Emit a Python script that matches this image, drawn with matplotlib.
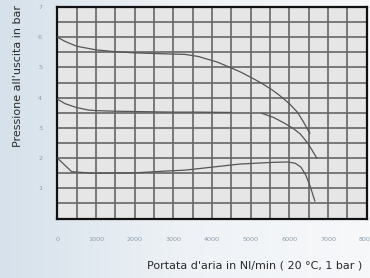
import numpy as np
import matplotlib
matplotlib.use('Agg')
import matplotlib.pyplot as plt
import matplotlib.ticker as ticker

# ── Data ──────────────────────────────────────────────────────────────────────
top_x = [0, 200, 500, 1000, 1500, 2000, 2500, 3000, 3300, 3650, 4150, 4500,
         4750, 5050, 5250, 5550, 5750, 6000, 6200, 6350, 6530]
top_y = [6.0, 5.86, 5.70, 5.58, 5.52, 5.48, 5.46, 5.44, 5.43, 5.36, 5.17, 4.98,
         4.84, 4.64, 4.50, 4.26, 4.07, 3.80, 3.53, 3.23, 2.82]

mid_x = [0, 200, 500, 800, 1000, 1500, 2000, 3000, 3600, 4500, np.nan,
         5290, 5600, 5850, 6100, 6280, 6480, 6710]
mid_y = [3.95, 3.80, 3.67, 3.59, 3.57, 3.55, 3.54, 3.52, 3.52, 3.51, np.nan,
         3.48, 3.34, 3.17, 2.98, 2.80, 2.49, 2.0]

low_x = [0, 370, 900, 2000, 2800, 3300, 4150, 4700, 5300, 5600, 5950, 6150,
         6300, 6420, 6530, 6660]
low_y = [2.0, 1.55, 1.50, 1.51, 1.57, 1.60, 1.72, 1.80, 1.84, 1.86, 1.87, 1.83,
         1.70, 1.45, 1.10, 0.58]

x_ticks = [0, 1000, 2000, 3000, 4000, 5000, 6000, 7000, 8000]
y_ticks = [1, 2, 3, 4, 5, 6, 7]

# ── Figure ────────────────────────────────────────────────────────────────────
fig = plt.figure(figsize=(3.7, 2.78), dpi=100)

# soft bluish gradient behind everything
bg = fig.add_axes([0, 0, 1, 1], zorder=-10)
grad = np.linspace(0, 1, 256).reshape(1, -1)
cmap = matplotlib.colors.LinearSegmentedColormap.from_list(
    'bg', ['#d6e1eb', '#eef2f6', '#f7f8fa'])
bg.imshow(grad, aspect='auto', cmap=cmap, extent=[0, 1, 0, 1])
bg.axis('off')

ax = fig.add_axes([0.155, 0.214, 0.836, 0.761])
ax.set_facecolor('#e6e6e6')

for xs, ys in [(top_x, top_y), (mid_x, mid_y), (low_x, low_y)]:
    ax.plot(xs, ys, color='#555555', lw=0.9, zorder=3)

ax.set_xlim(0, 8000)
ax.set_ylim(0, 7)
ax.set_xticks(x_ticks)
ax.set_xticklabels([str(v) for v in x_ticks])
ax.set_yticks(y_ticks)
ax.set_yticklabels([str(v) for v in y_ticks])
ax.xaxis.set_minor_locator(ticker.MultipleLocator(500))
ax.yaxis.set_minor_locator(ticker.MultipleLocator(0.5))
ax.grid(which='both', color='#666666', lw=1.2, zorder=1)
ax.set_axisbelow(True)
ax.tick_params(which='both', length=0)
ax.tick_params(axis='x', labelsize=4.6, labelcolor='#8d9cab', pad=13)
ax.tick_params(axis='y', labelsize=4.6, labelcolor='#8d9cab', pad=11)

for s in ax.spines.values():
    s.set_color('#111111')
    s.set_linewidth(1.6)

ax.text(-0.127, 0.674, "Pressione all'uscita in bar", transform=ax.transAxes,
        rotation=90, ha='center', va='center', fontsize=8.0, color='#2a2a2a')
ax.text(0.639, -0.22, "Portata d'aria in Nl/min ( 20 °C, 1 bar )",
        transform=ax.transAxes, ha='center', va='center', fontsize=8.0,
        color='#2a2a2a')

fig.savefig('out.png', dpi=100)
